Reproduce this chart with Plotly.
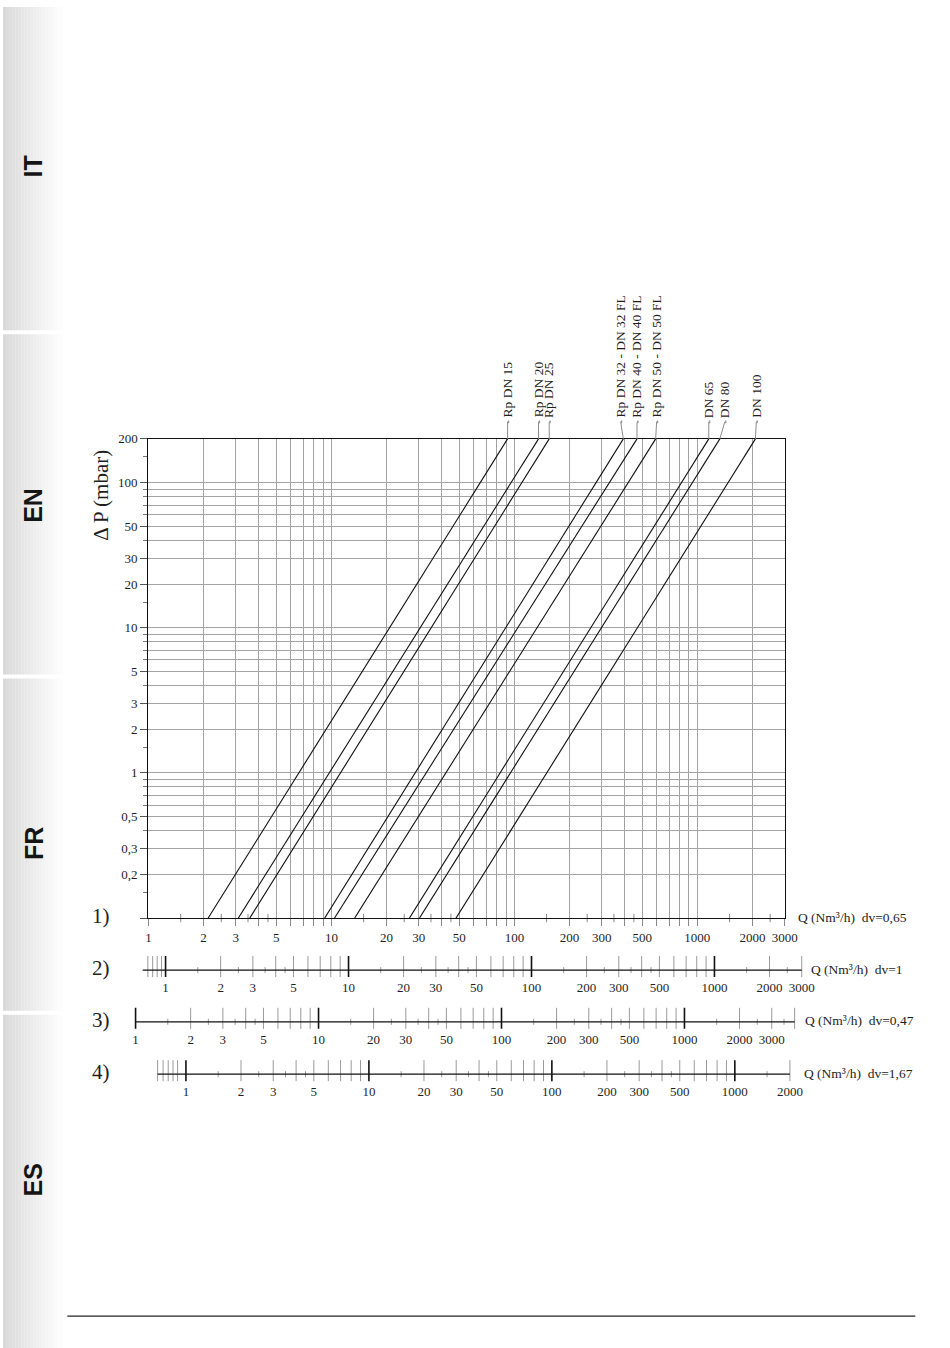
import numpy as np
import plotly.graph_objects as go

# ---------------- data ----------------
series_names = ["Rp DN 15", "Rp DN 20", "Rp DN 25",
                "Rp DN 32 - DN 32 FL", "Rp DN 40 - DN 40 FL", "Rp DN 50 - DN 50 FL",
                "DN 65", "DN 80", "DN 100"]
dp_low, dp_high = 0.1, 200.0                      # mbar, ends of every curve
q_at_dp_low = [2.12, 3.10, 3.58, 9.19, 10.4, 13.4, 26.7, 30.3, 48.0]     # Nm3/h at 0.1 mbar
q_at_dp_high = [91.8, 135.5, 155.0, 394, 468, 592, 1155, 1327, 2077]     # Nm3/h at 200 mbar
label_q = [91.8, 135.5, 155.0, 381, 468, 599, 1155, 1413, 2100]          # label anchors

x_tick_labels = [1, 2, 3, 5, 10, 20, 30, 50, 100, 200, 300, 500, 1000, 2000, 3000]
y_tick_labels = [0.2, 0.3, 0.5, 1, 2, 3, 5, 10, 20, 30, 50, 100, 200]
y_tick_text = ["0,2", "0,3", "0,5", "1", "2", "3", "5", "10", "20", "30", "50", "100", "200"]

scale_names = ["1)", "2)", "3)", "4)"]
scale_dv = [0.65, 1.0, 0.47, 1.67]
scale_dv_text = ["0,65", "1", "0,47", "1,67"]
scale_min = [1, 0.75, 1.0, 0.7]
scale_max = [3000, 3000, 4000, 2000]
scale_labels = [x_tick_labels, x_tick_labels, x_tick_labels, x_tick_labels[:-1]]
scale_sub_one = [[], [0.8, 0.85, 0.9, 0.95], [], [0.7, 0.75, 0.8, 0.85, 0.9]]

tabs = ["IT", "EN", "FR", "ES"]

# ---------------- layout constants (reference pixels) ----------------
W, H = 950, 1348
X0, X1 = 148.3, 786.0          # plot left/right
Y0, Y1 = 438.5, 917.3          # plot top/bottom
SCALE_Y = [917.3, 969.3, 1021.0, 1073.3]
BX0, BX1 = 125.0, 818.0
DEC = (X1 - X0) / np.log10(x_tick_labels[-1] / x_tick_labels[0])
SERIF = "Liberation Serif"
GRID = "#a3a3a3"
INK = "#1e1e1e"

# the capture maps page pixels slightly (measured with calibration marks);
# these constants pre-compensate so the photographed picture lands on the reference pixels
SX, OX = 0.9855, 2.5
SY, OY = 0.994, 7.0


def px(p):
    return ((p - OX) / SX) / W


def py(p):
    return 1 - ((p - OY) / SY) / H


def log_grid(mants, lo, hi):
    out = []
    for e in range(-2, 5):
        for m in mants:
            v = round(m * 10.0 ** e, 6)
            if lo - 1e-9 <= v <= hi + 1e-9:
                out.append(v)
    return out


def fmt(v):
    return ("%g" % v).replace(".", ",")


def segs(vals, a, b):
    xs, ys = [], []
    for v in vals:
        xs += [v, v, None]
        ys += [a, b, None]
    return xs, ys


fig = go.Figure()

# ---------------- curves ----------------
for name, qlo, qhi in zip(series_names, q_at_dp_low, q_at_dp_high):
    fig.add_trace(go.Scatter(x=[qlo, qhi], y=[dp_low, dp_high], mode="lines",
                             line=dict(color="#111111", width=1.1),
                             name=name, showlegend=False, hoverinfo="skip"))

q_lo, q_hi = x_tick_labels[0], x_tick_labels[-1]
x_grid = log_grid(range(1, 10), q_lo, q_hi)
x_inner = [v for v in x_grid if q_lo < v < q_hi]              # gridlines inside the frame
x_inner_text = [fmt(v) if v in x_tick_labels else "" for v in x_inner]
x_edges = [q_lo, q_hi]                                         # ticks on the frame itself
x_half = log_grid([1.5, 2.5, 3.5, 4.5], q_lo, q_hi)
y_grid = log_grid(range(1, 10), dp_low, dp_high)
y_lab_inner = [v for v in y_tick_labels if dp_low < v < dp_high]
y_lab_inner_text = [t for v, t in zip(y_tick_labels, y_tick_text) if dp_low < v < dp_high]
y_minor = [v for v in y_grid if v not in y_tick_labels and dp_low < v < dp_high]
y_edges = [dp_low, dp_high]
y_edges_text = ["", y_tick_text[y_tick_labels.index(dp_high)]]
y_half = log_grid([1.5], dp_low, dp_high)

# crossing half ticks on the main Q axis
fig.add_trace(go.Scatter(x=x_half, y=[dp_low] * len(x_half), mode="markers",
                         xaxis="x", yaxis="y5", cliponaxis=False,
                         marker=dict(symbol="line-ns", size=6,
                                     line=dict(color="#8a8a8a", width=1)),
                         showlegend=False, hoverinfo="skip"))
# frame-edge ticks (no gridline on the frame)
fig.add_trace(go.Scatter(x=[None], y=[None], xaxis="x5", yaxis="y",
                         showlegend=False, hoverinfo="skip"))

tickfont = dict(family=SERIF, size=13, color=INK)
layout_axes = {}
layout_axes["xaxis"] = dict(
    type="log", range=[np.log10(q_lo), np.log10(q_hi)],
    domain=[px(X0), px(X1)], anchor="y",
    showline=True, linecolor="#111", linewidth=1.3, mirror=True,
    ticks="outside", ticklen=7, tickcolor="#8a8a8a", tickwidth=1,
    tickmode="array", tickvals=x_inner, ticktext=x_inner_text,
    showgrid=True, gridcolor=GRID, gridwidth=1, zeroline=False,
    tickfont=tickfont)
layout_axes["xaxis5"] = dict(
    type="log", range=[np.log10(q_lo), np.log10(q_hi)], overlaying="x",
    anchor="y", side="bottom", tickmode="array", tickvals=x_edges,
    ticktext=[fmt(v) for v in x_edges], ticks="outside", ticklen=7,
    tickcolor="#8a8a8a", tickwidth=1, showgrid=False, showline=False,
    zeroline=False, tickfont=tickfont)
layout_axes["yaxis"] = dict(
    type="log", range=[np.log10(dp_low), np.log10(dp_high)],
    domain=[py(Y1), py(Y0)], anchor="x",
    showline=True, linecolor="#111", linewidth=1.3, mirror=True,
    ticks="outside", ticklen=7, tickcolor="#555", tickwidth=1,
    tickmode="array", tickvals=y_lab_inner, ticktext=y_lab_inner_text,
    showgrid=True, gridcolor=GRID, gridwidth=1, zeroline=False,
    minor=dict(tickmode="array", tickvals=y_minor, ticks="outside", ticklen=4,
               tickcolor="#777", showgrid=True, gridcolor=GRID, gridwidth=1),
    tickfont=tickfont)
layout_axes["yaxis5"] = dict(
    type="log", range=[np.log10(dp_low), np.log10(dp_high)], overlaying="y",
    anchor="x", side="left", tickmode="array", tickvals=y_edges, ticktext=y_edges_text,
    ticks="outside", ticklen=7, tickcolor="#555", tickwidth=1,
    minor=dict(tickmode="array", tickvals=y_half, ticks="outside", ticklen=4,
               tickcolor="#777", showgrid=False),
    showgrid=False, showline=False, zeroline=False, tickfont=tickfont)

# ---------------- secondary Q scales 2) 3) 4) ----------------
for k in range(1, 4):
    dv = scale_dv[k]
    f = np.sqrt(scale_dv[0] / dv)
    yl = SCALE_Y[k]
    xa, ya = "x%d" % (k + 1), "y%d" % (k + 1)
    lo = np.log10(f) + (BX0 - X0) / DEC
    hi = np.log10(f) + (BX1 - X0) / DEC
    layout_axes["xaxis%d" % (k + 1)] = dict(
        type="log", range=[lo, hi], domain=[px(BX0), px(BX1)], anchor=ya,
        showline=False, showgrid=False, zeroline=False, ticks="",
        tickmode="array", tickvals=scale_labels[k],
        ticktext=[fmt(v) for v in scale_labels[k]],
        tickfont=tickfont)
    layout_axes["yaxis%d" % (k + 1)] = dict(
        range=[-8, 16], domain=[py(yl + 8), py(yl - 16)], anchor=xa,
        visible=False, fixedrange=True)
    vmin, vmax = scale_min[k], scale_max[k]
    decades = log_grid([1], vmin, vmax)
    longs = scale_sub_one[k] + log_grid(range(2, 10), 1, vmax)
    shorts = log_grid([1.5, 2.5, 3.5, 4.5], vmin, vmax)
    sx, sy = segs(shorts, -3, 3)
    fig.add_trace(go.Scatter(x=sx, y=sy, xaxis=xa, yaxis=ya, mode="lines",
                             line=dict(color="#9a9a9a", width=1),
                             showlegend=False, hoverinfo="skip"))
    lx, ly = segs(longs, -7, 14)
    fig.add_trace(go.Scatter(x=lx, y=ly, xaxis=xa, yaxis=ya, mode="lines",
                             line=dict(color="#9a9a9a", width=1),
                             showlegend=False, hoverinfo="skip"))
    fig.add_trace(go.Scatter(x=[vmin, vmax], y=[0, 0], xaxis=xa, yaxis=ya, mode="lines",
                             line=dict(color="#111", width=1.3),
                             showlegend=False, hoverinfo="skip"))
    dx, dy = segs(decades, -7, 14)
    fig.add_trace(go.Scatter(x=dx, y=dy, xaxis=xa, yaxis=ya, mode="lines",
                             line=dict(color="#111", width=1.6),
                             showlegend=False, hoverinfo="skip"))

# ---------------- shapes ----------------
shapes = []
n = 22
for i in range(n):
    g = int(round(213 + (255 - 213) * (i / (n - 1)) ** 0.85))
    shapes.append(dict(type="rect", xref="paper", yref="paper",
                       x0=0 if i == 0 else px(i * 3), x1=px(i * 3 + 3.2), y0=0, y1=1,
                       fillcolor="rgb(%d,%d,%d)" % (g, g, g), line=dict(width=0),
                       layer="below"))
for ysep in [330, 674, 1010]:
    shapes.append(dict(type="rect", xref="paper", yref="paper",
                       x0=0, x1=px(68), y0=py(ysep + 4), y1=py(ysep),
                       fillcolor="white", line=dict(width=0), layer="below"))
shapes.append(dict(type="line", xref="paper", yref="paper",
                   x0=px(67), x1=px(917), y0=py(1315), y1=py(1315),
                   line=dict(color="#222", width=1.3)))
for qtop, ql in zip(q_at_dp_high, label_q):
    shapes.append(dict(type="line", xref="x", yref="paper",
                       x0=qtop, x1=ql, y0=py(Y0), y1=py(421.5),
                       line=dict(color="#8c8c8c", width=1)))
    shapes.append(dict(type="circle", xref="x", yref="paper",
                       xsizemode="pixel", ysizemode="pixel",
                       xanchor=ql, yanchor=py(421.5),
                       x0=-1.7, x1=1.7, y0=-1.7, y1=1.7,
                       fillcolor="#9a9a9a", line=dict(width=0)))

# ---------------- annotations ----------------
ann = []
for name, ql in zip(series_names, label_q):
    ann.append(dict(text=name, x=np.log10(ql), xref="x", y=py(418.5), yref="paper",
                    xanchor="center", yanchor="bottom", textangle=-90,
                    showarrow=False, borderpad=0,
                    font=dict(family=SERIF, size=13.5, color=INK)))
ann.append(dict(text="Δ P (mbar)", x=px(101), y=py(495), xref="paper", yref="paper",
                xanchor="center", yanchor="middle", textangle=-90, showarrow=False,
                font=dict(family=SERIF, size=21, color=INK)))
label_x = [797, 810, 804, 803]
for k in range(4):
    yl = SCALE_Y[k]
    ann.append(dict(text=scale_names[k], x=px(101), y=py(yl - 2), xref="paper", yref="paper",
                    xanchor="center", yanchor="middle", showarrow=False,
                    font=dict(family=SERIF, size=21, color=INK)))
    ann.append(dict(text="Q (Nm³/h)  dv=" + scale_dv_text[k], x=px(label_x[k]), y=py(yl - 1),
                    xref="paper", yref="paper", xanchor="left", yanchor="middle",
                    showarrow=False, font=dict(family=SERIF, size=13.5, color=INK)))
tab_y = [166, 505, 843, 1179]
for t, ty in zip(tabs, tab_y):
    ann.append(dict(text="<b>" + t + "</b>", x=px(33), y=py(ty), xref="paper", yref="paper",
                    xanchor="center", yanchor="middle", textangle=-90, showarrow=False,
                    font=dict(family="Liberation Sans", size=25, color="#151515")))

fig.update_layout(width=W, height=H, margin=dict(l=0, r=0, t=0, b=0),
                  paper_bgcolor="white", plot_bgcolor="white",
                  showlegend=False, shapes=shapes, annotations=ann, **layout_axes)

fig.write_html("out.html", config={"displayModeBar": False, "staticPlot": True})

# remove the browser's default page margin so the figure fills the window exactly
with open("out.html", "r", encoding="utf-8") as fh:
    html = fh.read()
html = html.replace("<head>", "<head><style>html,body{margin:0;padding:0;overflow:hidden;}</style>", 1)
with open("out.html", "w", encoding="utf-8") as fh:
    fh.write(html)
